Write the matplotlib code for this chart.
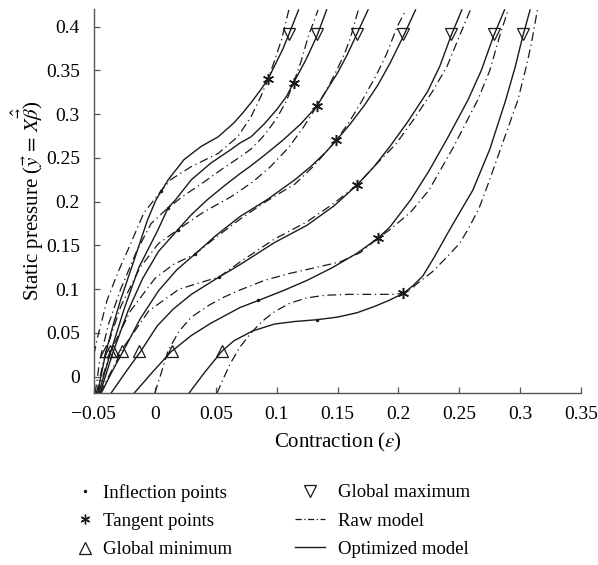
import matplotlib
matplotlib.use("Agg")
import matplotlib.pyplot as plt
from matplotlib.lines import Line2D
from matplotlib.ticker import FuncFormatter

plt.rcParams["font.family"] = ["Liberation Serif", "DejaVu Serif"]
plt.rcParams["mathtext.fontset"] = "stix"

# optimized model curves, one list per curve
opt_x = [
    [-0.047, -0.040, -0.034, -0.028, -0.017, -0.006, 0.001, 0.011, 0.024, 0.038, 0.052, 0.065, 0.072,
     0.079, 0.086, 0.093, 0.100, 0.105, 0.110, 0.118],
    [-0.046, -0.036, -0.025, -0.013, 0.002, 0.011, 0.017, 0.030, 0.046, 0.062, 0.070, 0.079, 0.090,
     0.100, 0.108, 0.114, 0.124, 0.133, 0.141],
    [-0.045, -0.034, -0.022, -0.010, 0.003, 0.019, 0.030, 0.043, 0.057, 0.070, 0.079, 0.090, 0.105,
     0.120, 0.133, 0.140, 0.150, 0.158, 0.165, 0.175],
    [-0.044, -0.035, -0.026, -0.012, 0.003, 0.018, 0.033, 0.050, 0.070, 0.092, 0.103, 0.115, 0.128,
     0.140, 0.149, 0.160, 0.172, 0.183, 0.193, 0.204, 0.214],
    [-0.036, -0.024, -0.012, 0.002, 0.015, 0.030, 0.053, 0.070, 0.098, 0.125, 0.147, 0.166, 0.180,
     0.193, 0.208, 0.224, 0.234, 0.243, 0.252],
    [-0.017, -0.002, 0.013, 0.030, 0.046, 0.070, 0.085, 0.105, 0.125, 0.145, 0.166, 0.183, 0.193,
     0.210, 0.225, 0.240, 0.257, 0.268, 0.278, 0.287],
    [0.028, 0.041, 0.055, 0.065, 0.080, 0.098, 0.115, 0.133, 0.150, 0.166, 0.180, 0.192, 0.204, 0.212,
     0.220, 0.230, 0.240, 0.250, 0.261, 0.275, 0.288, 0.296, 0.302, 0.308],
]
opt_y = [
    [-0.019, 0.029, 0.060, 0.088, 0.133, 0.179, 0.202, 0.225, 0.248, 0.263, 0.274, 0.290, 0.301,
     0.313, 0.326, 0.340, 0.360, 0.374, 0.391, 0.419],
    [-0.019, 0.029, 0.078, 0.125, 0.166, 0.193, 0.202, 0.225, 0.244, 0.259, 0.267, 0.274, 0.289,
     0.305, 0.320, 0.336, 0.362, 0.389, 0.419],
    [-0.019, 0.029, 0.075, 0.112, 0.143, 0.168, 0.185, 0.202, 0.218, 0.232, 0.241, 0.253, 0.270,
     0.289, 0.309, 0.325, 0.347, 0.368, 0.389, 0.419],
    [-0.019, 0.006, 0.029, 0.066, 0.098, 0.122, 0.140, 0.161, 0.183, 0.202, 0.213, 0.225, 0.240,
     0.256, 0.270, 0.288, 0.310, 0.333, 0.358, 0.389, 0.419],
    [-0.019, 0.005, 0.028, 0.058, 0.077, 0.094, 0.114, 0.128, 0.153, 0.173, 0.195, 0.219, 0.240,
     0.263, 0.292, 0.326, 0.355, 0.389, 0.419],
    [-0.019, 0.005, 0.028, 0.047, 0.061, 0.079, 0.087, 0.098, 0.110, 0.124, 0.141, 0.158, 0.171,
     0.202, 0.235, 0.272, 0.316, 0.350, 0.389, 0.419],
    [-0.019, 0.005, 0.029, 0.041, 0.052, 0.060, 0.063, 0.065, 0.068, 0.073, 0.080, 0.087, 0.095, 0.104,
     0.115, 0.138, 0.163, 0.187, 0.213, 0.260, 0.316, 0.355, 0.389, 0.419],
]

# raw model curves
raw_x = [
    [-0.050, -0.047, -0.039, -0.030, -0.022, -0.009, 0.005, 0.013, 0.030, 0.052, 0.068, 0.079, 0.087,
     0.093, 0.098, 0.104, 0.110],
    [-0.049, -0.045, -0.038, -0.028, -0.015, -0.003, 0.011, 0.024, 0.040, 0.055, 0.070, 0.079, 0.090,
     0.100, 0.108, 0.114, 0.120, 0.126, 0.134],
    [-0.048, -0.040, -0.028, -0.012, 0.003, 0.019, 0.040, 0.062, 0.080, 0.095, 0.110, 0.122, 0.133,
     0.142, 0.150, 0.156, 0.161, 0.167],
    [-0.047, -0.036, -0.020, 0.000, 0.015, 0.033, 0.050, 0.070, 0.090, 0.103, 0.115, 0.130, 0.149,
     0.160, 0.170, 0.182, 0.190, 0.199, 0.206],
    [-0.045, -0.025, -0.005, 0.020, 0.053, 0.070, 0.098, 0.125, 0.147, 0.166, 0.182, 0.198, 0.212,
     0.228, 0.240, 0.250, 0.259],
    [0.000, 0.005, 0.011, 0.020, 0.030, 0.045, 0.057, 0.070, 0.090, 0.111, 0.130, 0.152, 0.169, 0.183,
     0.193, 0.210, 0.225, 0.245, 0.265, 0.275, 0.283, 0.290],
    [0.051, 0.057, 0.062, 0.070, 0.079, 0.088, 0.098, 0.111, 0.125, 0.140, 0.160, 0.180, 0.195, 0.204,
     0.210, 0.216, 0.228, 0.240, 0.250, 0.257, 0.266, 0.273, 0.285, 0.298, 0.305, 0.309, 0.314],
]
raw_y = [
    [0.025, 0.045, 0.088, 0.120, 0.145, 0.187, 0.212, 0.225, 0.240, 0.255, 0.274, 0.297, 0.320,
     0.340, 0.360, 0.385, 0.419],
    [-0.019, 0.020, 0.060, 0.100, 0.143, 0.175, 0.193, 0.207, 0.222, 0.237, 0.251, 0.260, 0.276,
     0.295, 0.315, 0.336, 0.360, 0.389, 0.419],
    [-0.019, 0.030, 0.080, 0.125, 0.152, 0.168, 0.188, 0.205, 0.222, 0.240, 0.262, 0.285, 0.309,
     0.330, 0.352, 0.370, 0.389, 0.419],
    [-0.019, 0.030, 0.075, 0.112, 0.128, 0.140, 0.159, 0.180, 0.199, 0.210, 0.220, 0.240, 0.270,
     0.292, 0.315, 0.345, 0.368, 0.400, 0.419],
    [-0.019, 0.035, 0.075, 0.100, 0.114, 0.131, 0.157, 0.177, 0.198, 0.219, 0.243, 0.266, 0.293,
     0.326, 0.355, 0.389, 0.419],
    [-0.019, 0.003, 0.030, 0.052, 0.068, 0.082, 0.091, 0.099, 0.110, 0.118, 0.124, 0.131, 0.142, 0.158,
     0.168, 0.188, 0.213, 0.262, 0.316, 0.350, 0.389, 0.419],
    [-0.019, 0.000, 0.015, 0.034, 0.050, 0.063, 0.074, 0.084, 0.090, 0.093, 0.094, 0.094, 0.094, 0.095,
     0.100, 0.107, 0.120, 0.137, 0.152, 0.168, 0.192, 0.218, 0.265, 0.316, 0.355, 0.380, 0.419],
]

# special points
inflect_x = [0.005, 0.011, 0.019, 0.033, 0.053, 0.085, 0.133]
inflect_y = [0.212, 0.193, 0.168, 0.140, 0.114, 0.087, 0.065]
tangent_x = [0.093, 0.114, 0.133, 0.149, 0.166, 0.183, 0.204]
tangent_y = [0.340, 0.336, 0.309, 0.270, 0.219, 0.158, 0.095]
min_x = [-0.040, -0.037, -0.034, -0.027, -0.013, 0.014, 0.055]
min_y = [0.029] * 7
max_x = [0.110, 0.133, 0.166, 0.204, 0.243, 0.278, 0.302]
max_y = [0.391] * 7

x_ticks = [-0.05, 0, 0.05, 0.1, 0.15, 0.2, 0.25, 0.3, 0.35]
y_ticks = [0, 0.05, 0.1, 0.15, 0.2, 0.25, 0.3, 0.35, 0.4]

ink = "#1a1a1a"
dashdot = (0, (7, 3, 1, 3))
asterisk = (6, 2, 0)

fig = plt.figure(figsize=(5.98, 5.65), dpi=100)
ax = fig.add_axes([0.157, 0.304, 0.815, 0.680])

for xs, ys in zip(raw_x, raw_y):
    ax.plot(xs, ys, color=ink, lw=0.9, linestyle=dashdot)
for xs, ys in zip(opt_x, opt_y):
    ax.plot(xs, ys, color=ink, lw=1.0)

ax.plot(inflect_x, inflect_y, ls="none", marker=".", ms=3, color=ink)
ax.plot(tangent_x, tangent_y, ls="none", marker=asterisk, ms=8, mew=1.1, color=ink)
ax.plot(min_x, min_y, ls="none", marker="^", ms=9, mfc="none", mec=ink, mew=0.9)
ax.plot(max_x, max_y, ls="none", marker="v", ms=9, mfc="none", mec=ink, mew=0.9)

ax.set_xlim(-0.05, 0.35)
ax.set_ylim(-0.019, 0.42)
ax.set_xticks(x_ticks)
ax.set_yticks(y_ticks)


def fmt(v, pos):
    s = f"{v:g}"
    return s.replace("-", "\u2212")


ax.xaxis.set_major_formatter(FuncFormatter(fmt))
ax.yaxis.set_major_formatter(FuncFormatter(fmt))
ax.tick_params(direction="in", length=4, width=0.9, color="#555555", labelsize=14)
ax.tick_params(axis="y", pad=10)
ax.tick_params(axis="x", pad=9)
for side in ["top", "right"]:
    ax.spines[side].set_visible(False)
for side in ["left", "bottom"]:
    ax.spines[side].set_color("#555555")
    ax.spines[side].set_linewidth(1.0)

ax.set_xlabel(r"Contraction ($\varepsilon$)", fontsize=15, labelpad=6)
ax.set_ylabel(r"Static pressure ($\vec{y}\,=\,X\hat{\vec{\beta}}$)", fontsize=15, labelpad=0)

col1 = [
    Line2D([], [], ls="none", marker=".", ms=3, color=ink),
    Line2D([], [], ls="none", marker=asterisk, ms=7, mew=1.0, color=ink),
    Line2D([], [], ls="none", marker="^", ms=8, mfc="none", mec=ink, mew=0.9),
]
col2 = [
    Line2D([], [], ls="none", marker="v", ms=8, mfc="none", mec=ink, mew=0.9),
    Line2D([], [], color=ink, lw=0.9, linestyle=(0, (5, 2, 1, 2))),
    Line2D([], [], color=ink, lw=1.0),
]
leg1 = fig.legend(col1, ["Inflection points", "Tangent points", "Global minimum"],
                  loc="center left", bbox_to_anchor=(0.1264, 0.0779), frameon=False,
                  fontsize=13.5, handlelength=1.0, handletextpad=0.46, labelspacing=0.6,
                  borderpad=0, borderaxespad=0)
leg2 = fig.legend(col2, ["Global maximum", "Raw model", "Optimized model"],
                  loc="center left", bbox_to_anchor=(0.4933, 0.0779), frameon=False,
                  fontsize=13.5, handlelength=1.6, handletextpad=0.69, labelspacing=0.6,
                  borderpad=0, borderaxespad=0)

fig.savefig("out.png", dpi=100)
